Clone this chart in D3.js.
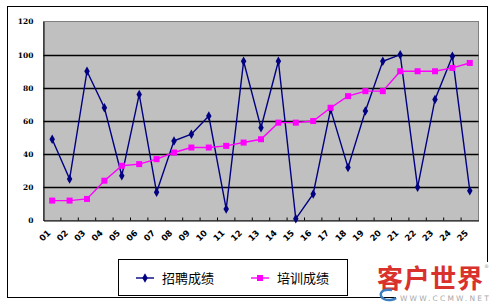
<!DOCTYPE html>
<html><head><meta charset="utf-8">
<script src="https://cdn.jsdelivr.net/npm/d3@7/dist/d3.min.js"></script>
<style>
html,body{margin:0;padding:0;background:#fff;}
svg{display:block;}
</style></head>
<body>
<script>
const categories = ["01","02","03","04","05","06","07","08","09","10","11","12","13","14","15","16","17","18","19","20","21","22","23","24","25"];
const recruitScores = [49,25,90,68,27,76,17,48,52,63,7,96,56,96,1,16,67,32,66,96,100,20,73,99,18];
const trainingScores = [12,12,13,24,33,34,37,41,44,44,45,47,49,59,59,60,68,75,78,78,90,90,90,92,95];
const yTicks = [0,20,40,60,80,100,120];
const seriesNames = ["招聘成绩","培训成绩"];

const W = 500, H = 306;
const svg = d3.select("body").append("svg").attr("width", W).attr("height", H);

// outer frame
svg.append("rect").attr("x",7.5).attr("y",6.5).attr("width",480).attr("height",291)
  .attr("fill","#fff").attr("stroke","#000").attr("stroke-width",1);

const plot = {l:43.5, t:21.5, r:478.5, b:220.5};
const x = d3.scaleBand().domain(categories).range([plot.l, plot.r]).padding(0);
const y = d3.scaleLinear().domain([0,120]).range([plot.b, plot.t]);

svg.append("rect").attr("x",plot.l).attr("y",plot.t).attr("width",plot.r-plot.l).attr("height",plot.b-plot.t)
  .attr("fill","#c0c0c0").attr("stroke","#808080").attr("stroke-width",1);

// gridlines
svg.append("g").selectAll("line").data(yTicks.filter(d=>d>0 && d<120)).join("line")
  .attr("x1",plot.l).attr("x2",plot.r).attr("y1",d=>Math.round(y(d))+0.5).attr("y2",d=>Math.round(y(d))+0.5)
  .attr("stroke","#000").attr("stroke-width",1.3);

// y axis
const yAxis = svg.append("g").attr("transform",`translate(${plot.l},0)`)
  .call(d3.axisLeft(y).tickValues(yTicks).tickSize(0).tickPadding(10));
yAxis.select(".domain").attr("stroke","#000");
yAxis.selectAll("text").attr("font-family","'DejaVu Serif', serif").attr("font-weight","bold")
  .attr("font-size",7.5).attr("fill","#000");

// x axis
const xAxis = svg.append("g").attr("transform",`translate(0,${plot.b})`)
  .call(d3.axisBottom(x).tickSize(0).tickFormat(""));
xAxis.select(".domain").attr("stroke","#000");
svg.append("g").selectAll("line").data(categories.slice(1)).join("line")
  .attr("x1",d=>x(d)).attr("x2",d=>x(d)).attr("y1",plot.b-3).attr("y2",plot.b)
  .attr("stroke","#000");
svg.append("g").selectAll("text").data(categories).join("text")
  .attr("transform",d=>`translate(${x(d)+x.bandwidth()/2-1},${plot.b+13}) rotate(-45)`)
  .attr("text-anchor","end").attr("font-family","'DejaVu Sans', sans-serif").attr("font-weight","bold")
  .attr("font-size",8.5).attr("fill","#000").text(d=>d);

const cx = d => x(d) + x.bandwidth()/2;

const lineR = d3.line().x((d,i)=>cx(categories[i])).y(d=>y(d));
svg.append("path").datum(recruitScores).attr("d",lineR).attr("fill","none")
  .attr("stroke","#000080").attr("stroke-width",1.4);
svg.append("path").datum(trainingScores).attr("d",lineR).attr("fill","none")
  .attr("stroke","#ff00ff").attr("stroke-width",1.4);

const diamond = d3.symbol().type(d3.symbolDiamond).size(26);
svg.append("g").selectAll("path").data(recruitScores).join("path")
  .attr("d",diamond).attr("transform",(d,i)=>`translate(${cx(categories[i])},${y(d)})`)
  .attr("fill","#000080");
svg.append("g").selectAll("rect").data(trainingScores).join("rect")
  .attr("x",(d,i)=>cx(categories[i])-3).attr("y",d=>y(d)-3).attr("width",6).attr("height",6)
  .attr("fill","#ff00ff");

// legend
const lg = svg.append("g");
lg.append("rect").attr("x",118.5).attr("y",259.5).attr("width",229).attr("height",36)
  .attr("fill","#fff").attr("stroke","#000").attr("stroke-width",1);
const items = [{name:seriesNames[0], color:"#000080", x:136, type:"d"},{name:seriesNames[1], color:"#ff00ff", x:251, type:"s"}];
items.forEach(it=>{
  lg.append("line").attr("x1",it.x).attr("x2",it.x+18).attr("y1",278).attr("y2",278)
    .attr("stroke",it.color).attr("stroke-width",1.4);
  if(it.type==="d"){
    lg.append("path").attr("d",diamond).attr("transform",`translate(${it.x+9},278)`).attr("fill",it.color);
  } else {
    lg.append("rect").attr("x",it.x+6).attr("y",275).attr("width",6).attr("height",6).attr("fill",it.color);
  }
  lg.append("text").attr("x",it.x+26).attr("y",283).attr("font-family","'Noto Sans CJK SC', sans-serif")
    .attr("font-size",13).attr("fill","#000").text(it.name);
});

// watermark
const wm = svg.append("g");
wm.append("rect").attr("x",484).attr("y",262).attr("width",16).attr("height",44).attr("fill","#fff");
wm.append("rect").attr("x",396).attr("y",293).attr("width",94).attr("height",10).attr("fill","#fff");
wm.append("text").attr("x",377).attr("y",288).attr("font-family","'Noto Sans CJK SC', sans-serif")
  .attr("font-weight","bold").attr("font-size",26).attr("fill","#d9312c").attr("textLength",106).text("客户世界");
wm.append("path").attr("d","M392,290 C380,288 378,296 384,299 C388,301 394,300 396,298")
  .attr("fill","none").attr("stroke","#3a7fc0").attr("stroke-width",2.5);
wm.append("text").attr("x",400).attr("y",301).attr("font-family","'DejaVu Sans', sans-serif")
  .attr("font-size",7.5).attr("fill","#a8a8a8").attr("letter-spacing",2.2).text("WWW.CCMW.NET");
wm.append("text").attr("x",484).attr("y",268).attr("font-family","'DejaVu Sans', sans-serif")
  .attr("font-size",5).attr("fill","#999").text("®");
</script>
</body></html>
